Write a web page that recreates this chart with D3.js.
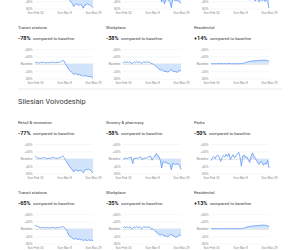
<!DOCTYPE html>
<html>
<head>
<meta charset="utf-8">
<script src="https://cdn.jsdelivr.net/npm/d3@7"></script>
<style>
  body { margin: 0; background: #fff; }
  svg { display: block; font-family: Roboto, "Noto Sans", sans-serif; }
</style>
</head>
<body>
<script>
// Size
const width = 300, height = 250;

// Dates: Feb 16 .. Mar 29 2020
const startDate = new Date(2020, 1, 16);
const endDate = new Date(2020, 2, 29);
const dates = d3.timeDay.range(startDate, d3.timeDay.offset(endDate, 1));
const xTicks = [new Date(2020, 1, 16), new Date(2020, 2, 8), new Date(2020, 2, 29)];
const yTicks = [-80, -40, 0, 40, 80];
const fillFrom = new Date(2020, 2, 10);

const regionName = "Silesian Voivodeship";
const rowOneCategories = ["Retail & recreation", "Grocery & pharmacy", "Parks"];
const rowTwoCategories = ["Transit stations", "Workplace", "Residential"];

// previous region (only bottom of the first row is visible)
const prevRetail = [4,2,1,3,2,5,9, 6,2,1,3,2,5,8, 5,3,2,4,6,12,18, 10,0,-12,-25,-35,-45,-52, -70,-58,-55,-60,-62,-58,-64, -78,-62,-60,-55,-58,-62,-68,-76];
const prevGrocery = [-8,2,3,1,4,6,8, -28,3,2,4,3,7,9, -6,2,4,3,8,12,15, -10,5,15,25,20,5,-10, -45,-20,-55,-35,-30,-38,-42, -75,-30,-34,-38,-36,-40,-45,-52];
const prevParks = [-10,5,10,0,15,20,10, -15,5,20,10,25,15,30, -5,10,20,5,15,25,30, 10,-5,15,20,10,0,-10, -35,-20,-30,-25,-40,-28,-35, -45,-25,-38,-30,-42,-35,-40,-78];
const prevTransit = [8,5,6,4,7,5,9, 6,4,7,5,8,6,10, 7,5,8,6,9,12,18, 15,0,-12,-25,-35,-42,-48, -58,-52,-56,-60,-58,-63,-62, -70,-64,-66,-68,-70,-69,-72,-78];
const prevWorkplace = [2,12,6,10,5,12,1, 3,11,5,12,6,11,2, 4,12,6,10,8,9,3, 0,-2,-8,-15,-22,-28,-35, -30,-38,-42,-40,-45,-43,-38, -30,-40,-44,-42,-46,-44,-36,-38];
const prevResidential = [1,0,1,0,0,1,2, 0,1,0,1,0,1,2, 1,0,0,1,0,1,0, 0,1,2,4,6,9,11, 12,14,15,16,16,17,18, 17,18,19,20,19,18,17,14];

// Silesian Voivodeship
const silRetail = [15,8,3,2,1,4,6, 5,2,1,3,2,5,7, 4,3,2,4,6,10,15, 8,-5,-18,-30,-42,-52,-58, -72,-60,-62,-66,-64,-62,-68, -76,-62,-58,-60,-56,-62,-70,-77];
const silGrocery = [-5,2,3,1,4,6,8, -28,3,2,4,3,7,9, -6,2,4,3,8,12,15, -8,5,15,28,22,10,-8, -50,-15,-22,-18,-24,-26,-30, -60,-25,-28,-32,-30,-28,-36,-58];
const silParks = [-10,5,12,0,15,20,8, -15,5,18,10,25,12,28, -5,10,22,5,15,25,35, 10,-40,15,20,8,10,-5, -20,10,32,15,5,-10,-25, -30,-15,-20,-35,-25,-30,-10,-50];
const silTransit = [20,15,12,8,6,5,7, 4,5,6,5,4,6,7, 5,4,6,5,7,9,12, 8,2,-10,-28,-40,-45,-50, -58,-52,-55,-58,-56,-60,-58, -66,-60,-62,-64,-60,-63,-62,-65];
const silWorkplace = [3,12,6,11,5,12,0, 2,11,6,12,5,11,1, 4,12,7,10,8,10,2, 0,-3,-10,-18,-25,-30,-36, -28,-36,-40,-38,-44,-40,-36, -28,-38,-42,-44,-45,-40,-34,-35];
const silResidential = [1,1,0,0,1,0,2, 1,0,1,0,1,0,1, 2,0,1,0,1,1,0, 1,0,2,4,7,9,11, 12,13,15,15,16,17,17, 18,18,19,20,19,18,16,13];

const svg = d3.select("body")
  .append("svg")
  .attr("width", width)
  .attr("height", height);

const colX = [18, 106, 194];
const lineColor = "#5e97f6";
const fillColor = "#d2e3fc";
const fmtTick = d3.timeFormat("%a %b %-d");

// one small chart: title, headline number, plot
// (showHead false for the row cut off at the top, its titles lie off the page)
function panel(x0, t, title, data, showHead = true) {
  const g = svg.append("g");
  const last = data[data.length - 1];

  if (showHead) {
    g.append("text")
     .attr("x", x0).attr("y", t + 1.5)
     .attr("font-size", 4.2).attr("fill", "#3c4043")
     .text(title);

    const head = g.append("text")
     .attr("x", x0).attr("y", t + 13)
     .attr("fill", "#3c4043");
    head.append("tspan")
     .attr("font-size", 5.5).attr("font-weight", 700).attr("fill", "#202124")
     .text((last > 0 ? "+" : "") + last + "%");
    head.append("tspan")
     .attr("dx", 2.5).attr("font-size", 4.3)
     .text("compared to baseline");
  }

  const x = d3.scaleTime()
   .domain([startDate, endDate])
   .range([x0 + 17, x0 + 75]);
  const y = d3.scaleLinear()
   .domain([-80, 80])
   .range([t + 51.5, t + 22]);

  // y axis with gridlines
  const yAxis = g.append("g")
   .attr("transform", `translate(${x0 + 17},0)`)
   .call(d3.axisLeft(y)
     .tickValues(showHead ? yTicks : yTicks.filter(d => d < 0))
     .tickSize(-58)
     .tickPadding(2.5)
     .tickFormat(d => d === 0 ? "Baseline" : (d > 0 ? "+" : "") + d + "%"));
  yAxis.select(".domain").remove();
  yAxis.selectAll(".tick line")
   .attr("stroke", d => d === 0 ? "#bdc1c6" : "#eceef1")
   .attr("stroke-width", 0.5);
  yAxis.selectAll(".tick text")
   .attr("font-size", 3.1).attr("fill", "#80868b").attr("font-family", null);

  // x axis
  const xAxis = g.append("g")
   .attr("transform", `translate(0,${t + 52.5})`)
   .call(d3.axisBottom(x).tickValues(xTicks).tickSize(0).tickPadding(2).tickFormat(fmtTick));
  xAxis.select(".domain").remove();
  xAxis.selectAll(".tick text")
   .attr("font-size", 3.1).attr("fill", "#80868b").attr("font-family", null);

  const pts = data.map((v, i) => ({date: dates[i], v: v}));

  g.append("path")
   .datum(pts.filter(d => d.date >= fillFrom))
   .attr("fill", fillColor)
   .attr("d", d3.area()
     .x(d => x(d.date))
     .y0(y(0))
     .y1(d => y(d.v)));

  g.append("path")
   .datum(pts)
   .attr("fill", "none")
   .attr("stroke", lineColor)
   .attr("stroke-width", 0.8)
   .attr("stroke-linejoin", "round")
   .attr("d", d3.line()
     .x(d => x(d.date))
     .y(d => y(d.v)));
}

// previous region, row of retail/grocery/parks (cut at top)
panel(colX[0], -43, rowOneCategories[0], prevRetail, false);
panel(colX[1], -43, rowOneCategories[1], prevGrocery, false);
panel(colX[2], -43, rowOneCategories[2], prevParks, false);

panel(colX[0], 27, rowTwoCategories[0], prevTransit);
panel(colX[1], 27, rowTwoCategories[1], prevWorkplace);
panel(colX[2], 27, rowTwoCategories[2], prevResidential);

// divider and region header
svg.append("line")
 .attr("x1", 18).attr("x2", 282)
 .attr("y1", 89).attr("y2", 89)
 .attr("stroke", "#dadce0").attr("stroke-width", 0.6);

svg.append("text")
 .attr("x", 18).attr("y", 103.6)
 .attr("font-size", 7.4).attr("fill", "#3c4043")
 .text(regionName);

panel(colX[0], 122, rowOneCategories[0], silRetail);
panel(colX[1], 122, rowOneCategories[1], silGrocery);
panel(colX[2], 122, rowOneCategories[2], silParks);

panel(colX[0], 192, rowTwoCategories[0], silTransit);
panel(colX[1], 192, rowTwoCategories[1], silWorkplace);
panel(colX[2], 192, rowTwoCategories[2], silResidential);
</script>
</body>
</html>
